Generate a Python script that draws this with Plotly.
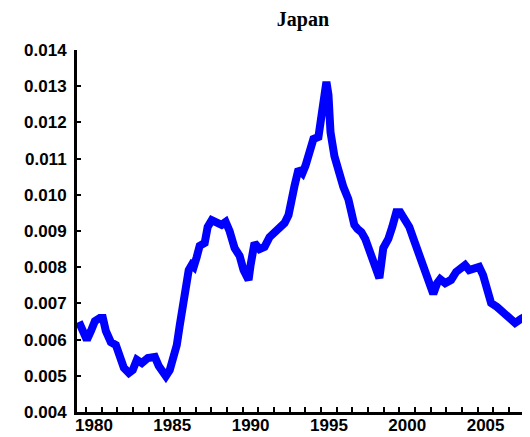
import plotly.graph_objects as go

# decimal year, dollars per yen
years = [
    1979.04, 1979.24, 1979.55, 1979.81, 1980.06, 1980.38, 1980.57, 1980.76,
    1981.08, 1981.40, 1981.66, 1981.91, 1982.23, 1982.48, 1982.74, 1983.06,
    1983.44, 1983.89, 1984.14, 1984.39, 1984.59, 1984.84, 1985.03, 1985.29,
    1985.48, 1985.67, 1985.86, 1986.05, 1986.24, 1986.37, 1986.56, 1986.75,
    1987.07, 1987.26, 1987.52, 1987.83, 1988.15, 1988.41, 1988.66, 1988.98,
    1989.30, 1989.55, 1989.87, 1990.00, 1990.25, 1990.57, 1990.89, 1991.21,
    1991.53, 1991.85, 1992.17, 1992.42, 1992.55, 1992.80, 1993.06, 1993.31,
    1993.50, 1993.76, 1994.01, 1994.33, 1994.59, 1994.84, 1994.97, 1995.10,
    1995.35, 1995.67, 1995.92, 1996.24, 1996.43, 1996.62, 1996.82, 1997.07,
    1997.32, 1997.58, 1997.77, 1997.96, 1998.22, 1998.47, 1998.79, 1999.04,
    1999.30, 1999.55, 1999.81, 2000.13, 2000.45, 2000.76, 2000.96, 2001.15,
    2001.40, 2001.66, 2001.91, 2002.10, 2002.42, 2002.80, 2003.12, 2003.44,
    2003.69, 2003.95, 2004.27, 2004.59, 2004.84, 2004.97, 2005.16, 2005.35,
    2005.73, 2006.11, 2006.50, 2006.88, 2007.26, 2007.58,
]
rate = [
    0.00649, 0.00627, 0.00599, 0.00624, 0.00651, 0.00660, 0.00660, 0.00624,
    0.00593, 0.00585, 0.00546, 0.00522, 0.00508, 0.00516, 0.00544, 0.00535,
    0.00549, 0.00552, 0.00527, 0.00508, 0.00499, 0.00516, 0.00544, 0.00585,
    0.00640, 0.00698, 0.00748, 0.00792, 0.00806, 0.00801, 0.00828, 0.00859,
    0.00867, 0.00911, 0.00930, 0.00922, 0.00917, 0.00925, 0.00900, 0.00853,
    0.00831, 0.00792, 0.00765, 0.00806, 0.00867, 0.00850, 0.00856, 0.00883,
    0.00897, 0.00908, 0.00922, 0.00944, 0.00980, 0.01024, 0.01071, 0.01060,
    0.01080, 0.01113, 0.01154, 0.01160, 0.01229, 0.01312, 0.01276, 0.01173,
    0.01107, 0.01052, 0.01022, 0.00988, 0.00955, 0.00917, 0.00906, 0.00897,
    0.00878, 0.00848, 0.00817, 0.00790, 0.00770, 0.00853, 0.00878, 0.00911,
    0.00952, 0.00952, 0.00933, 0.00911, 0.00872, 0.00836, 0.00803, 0.00790,
    0.00754, 0.00726, 0.00756, 0.00767, 0.00756, 0.00765, 0.00787, 0.00801,
    0.00806, 0.00792, 0.00795, 0.00801, 0.00778, 0.00759, 0.00731, 0.00701,
    0.00690, 0.00676, 0.00657, 0.00646, 0.00657, 0.00665,
]
year_ticks = [1980, 1985, 1990, 1995, 2000, 2005]
year_minor = [y + 0.5 for y in range(1979, 2008)]

tick_font = "Liberation Sans, Arial, sans-serif"

fig = go.Figure(go.Scatter(
    x=years, y=rate, mode="lines",
    line=dict(color="#0000ff", width=8),
    hoverinfo="x+y",
))

# the page body adds 8px on the left and top, so the figure is 8px smaller
fig.update_layout(
    width=522, height=429,
    margin=dict(l=69, r=1, t=42, b=25),
    paper_bgcolor="white", plot_bgcolor="white",
    showlegend=False,
    title=dict(
        text="<b>Japan</b>", x=0.565, xanchor="center", y=0.99, yanchor="top",
        font=dict(family="Liberation Serif", size=20, color="black"),
    ),
)
fig.update_xaxes(
    range=[1978.92, 2007.77], automargin=False,
    tickvals=year_ticks, ticks="", ticklen=0, showgrid=False, zeroline=False,
    showline=True, linecolor="black", linewidth=3,
    ticklabelstandoff=-4,
    tickfont=dict(family=tick_font, size=17, color="black", weight="bold"),
    minor=dict(tickvals=year_minor, ticks="inside", ticklen=5, tickwidth=2,
               tickcolor="black", showgrid=False),
)
fig.update_yaxes(
    range=[0.004, 0.014], dtick=0.001, tickformat=".3f", automargin=False,
    ticks="inside", ticklen=4, tickwidth=2, tickcolor="black",
    showgrid=False, zeroline=False,
    showline=True, linecolor="black", linewidth=3,
    ticklabelstandoff=4,
    tickfont=dict(family=tick_font, size=17, color="black", weight="bold"),
)

fig.write_html("out.html")
